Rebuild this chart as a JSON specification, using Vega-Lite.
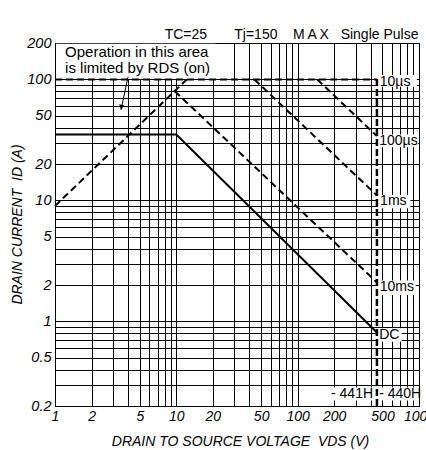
{
  "$schema": "https://vega.github.io/schema/vega-lite/v6.json",
  "width": 364,
  "height": 363,
  "autosize": {"type": "none"},
  "padding": {"left": 55, "top": 43, "right": 7, "bottom": 44},
  "background": "white",
  "config": {"view": {"stroke": "black", "strokeWidth": 1}, "font": "Liberation Sans"},
  "datasets": {
    "curves": [
      {"curve": "RDS", "v": 1, "i": 9},
      {"curve": "RDS", "v": 12.2, "i": 100},
      {"curve": "10us", "v": 1, "i": 100},
      {"curve": "10us", "v": 450, "i": 100},
      {"curve": "100us", "v": 145, "i": 100},
      {"curve": "100us", "v": 450, "i": 34},
      {"curve": "1ms", "v": 44, "i": 100},
      {"curve": "1ms", "v": 450, "i": 11},
      {"curve": "10ms", "v": 9.7, "i": 80},
      {"curve": "10ms", "v": 450, "i": 2.1},
      {"curve": "DC", "v": 1, "i": 35},
      {"curve": "DC", "v": 10, "i": 35},
      {"curve": "DC", "v": 450, "i": 0.81},
      {"curve": "arrow", "v": 4.0, "i": 105},
      {"curve": "arrow", "v": 3.5, "i": 56}
    ],
    "vlimit": [{"v": 450, "i": 0.2, "i2": 100}],
    "heads": [{"v": 3.52, "i": 59}],
    "boxes": [
      {"v": 1.02, "v2": 21, "i": 101, "i2": 197},
      {"v": 460, "v2": 960, "i": 87, "i2": 109},
      {"v": 460, "v2": 985, "i": 27.5, "i2": 35},
      {"v": 460, "v2": 850, "i": 8.6, "i2": 11.1},
      {"v": 460, "v2": 940, "i": 1.65, "i2": 2.18},
      {"v": 460, "v2": 720, "i": 0.68, "i2": 0.88},
      {"v": 180, "v2": 430, "i": 0.222, "i2": 0.285},
      {"v": 460, "v2": 1000, "i": 0.222, "i2": 0.285}
    ],
    "labels": [
      {"label": "10µs", "v": 475, "i": 96},
      {"label": "100µs", "v": 470, "i": 31},
      {"label": "1ms", "v": 478, "i": 9.8},
      {"label": "10ms", "v": 475, "i": 1.91},
      {"label": "DC", "v": 470, "i": 0.77},
      {"label": "- 440H", "v": 470, "i": 0.251}
    ],
    "rlabels": [
      {"label": "- 441H", "v": 418, "i": 0.251},
      {"label": "TC=25\u00a0\u00a0\u00a0\u00a0\u00a0\u00a0\u00a0Tj=150\u00a0\u00a0\u00a0\u00a0M\u2009A\u2009X\u00a0\u00a0\u00a0Single Pulse", "v": 990, "i": 235}
    ],
    "notes": [
      {"label": "Operation in this area", "v": 1.21, "i": 152},
      {"label": "is limited by RDS (on)", "v": 1.21, "i": 112.5}
    ]
  },
  "encoding": {
    "x": {
      "field": "v", "type": "quantitative",
      "scale": {"type": "log", "domain": [1, 1000]},
      "axis": {
        "values": [1,2,3,4,5,6,7,8,9,10,20,30,40,50,60,70,80,90,100,200,300,400,500,600,700,800,900,1000],
        "format": "~g",
        "labelExpr": "indexof([1,2,5,10,20,50,100,200,500,1000], datum.value) >= 0 ? datum.label : ''",
        "ticks": false, "grid": true, "gridColor": "black", "gridWidth": 1, "gridOpacity": 1,
        "domainColor": "black", "domainWidth": 1,
        "labelFont": "Liberation Sans", "labelFontStyle": "italic", "labelFontSize": 14, "labelColor": "black",
        "labelPadding": 3, "labelOverlap": false, "labelFlush": false, "labelBound": false,
        "title": "DRAIN TO SOURCE VOLTAGE\u00a0\u00a0VDS (V)",
        "titleFont": "Liberation Sans", "titleFontStyle": "italic", "titleFontWeight": "normal",
        "titleFontSize": 14, "titleColor": "black",
        "titleX": 185, "titleY": 39, "titleBaseline": "alphabetic", "titleAlign": "center"
      }
    },
    "y": {
      "field": "i", "type": "quantitative",
      "scale": {"type": "log", "domain": [0.2, 200]},
      "axis": {
        "values": [0.2,0.3,0.4,0.5,0.6,0.7,0.8,0.9,1,2,3,4,5,6,7,8,9,10,20,30,40,50,60,70,80,90,100,200],
        "format": "~g",
        "labelExpr": "indexof([0.2,0.5,1,2,5,10,20,50,100,200], datum.value) >= 0 ? datum.label : ''",
        "ticks": false, "grid": true, "gridColor": "black", "gridWidth": 1, "gridOpacity": 1,
        "domainColor": "black", "domainWidth": 1,
        "labelFont": "Liberation Sans", "labelFontStyle": "italic", "labelFontSize": 14.5, "labelColor": "black",
        "labelPadding": 4, "labelOverlap": false, "labelFlush": false, "labelBound": false,
        "title": "DRAIN CURRENT\u00a0\u00a0ID (A)",
        "titleFont": "Liberation Sans", "titleFontStyle": "italic", "titleFontWeight": "normal",
        "titleFontSize": 14, "titleColor": "black",
        "titleX": -38, "titleY": 181, "titleAngle": -90, "titleAlign": "center", "titleBaseline": "middle"
      }
    }
  },
  "layer": [
    {
      "data": {"name": "boxes"},
      "mark": {"type": "rect", "fill": "white", "stroke": null},
      "encoding": {"x2": {"field": "v2"}, "y2": {"field": "i2"}}
    },
    {
      "data": {"name": "vlimit"},
      "mark": {"type": "rule", "color": "black", "strokeWidth": 2.5, "strokeDash": [7, 3]},
      "encoding": {"y2": {"field": "i2"}}
    },
    {
      "data": {"name": "curves"},
      "transform": [{"filter": "datum.curve != 'DC' && datum.curve != 'arrow'"}],
      "mark": {"type": "line", "color": "black", "strokeWidth": 2, "strokeDash": [7, 4]},
      "encoding": {"detail": {"field": "curve"}}
    },
    {
      "data": {"name": "curves"},
      "transform": [{"filter": "datum.curve == 'DC'"}],
      "mark": {"type": "line", "color": "black", "strokeWidth": 2},
      "encoding": {}
    },
    {
      "data": {"name": "curves"},
      "transform": [{"filter": "datum.curve == 'arrow'"}],
      "mark": {"type": "line", "color": "black", "strokeWidth": 1},
      "encoding": {}
    },
    {
      "data": {"name": "heads"},
      "mark": {"type": "point", "shape": "triangle-down", "filled": true, "color": "black", "size": 28, "angle": 12, "opacity": 1},
      "encoding": {}
    },
    {
      "data": {"name": "labels"},
      "mark": {"type": "text", "align": "left", "baseline": "middle", "fontSize": 14, "font": "Liberation Sans", "color": "black"},
      "encoding": {"text": {"field": "label"}}
    },
    {
      "data": {"name": "rlabels"},
      "mark": {"type": "text", "align": "right", "baseline": "middle", "fontSize": 14, "font": "Liberation Sans", "color": "black", "clip": false},
      "encoding": {"text": {"field": "label"}}
    },
    {
      "data": {"name": "notes"},
      "mark": {"type": "text", "align": "left", "baseline": "alphabetic", "fontSize": 15, "font": "Liberation Sans", "color": "black"},
      "encoding": {"text": {"field": "label"}}
    }
  ]
}
